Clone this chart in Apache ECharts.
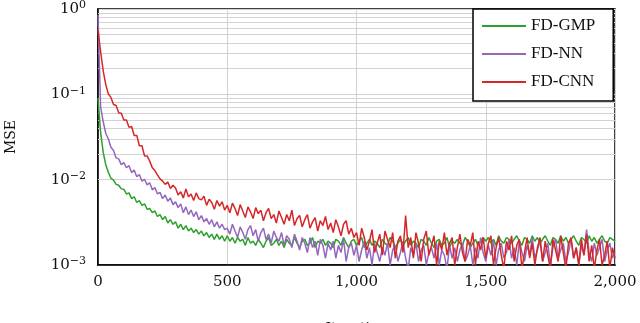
<!DOCTYPE html>
<html>
<head>
<meta charset="utf-8">
<script src="https://cdn.jsdelivr.net/npm/echarts@6/dist/echarts.min.js"></script>
<style>
  html, body { margin: 0; padding: 0; background: #fff; }
  #chart { width: 640px; height: 323px; }
</style>
</head>
<body>
<div id="chart"></div>
<script>
// iterations sampled every 10 steps, 0..2000
const iterStep = 10;

const mseGMP = [
  0.09, 0.036, 0.021, 0.0150, 0.0122, 0.0104, 0.0099, 0.0088, 0.0086, 0.0078,
  0.0077, 0.0068, 0.0070, 0.0060, 0.0063, 0.0054, 0.0057, 0.0050, 0.0052, 0.0045,
  0.0046, 0.0041, 0.0043, 0.0037, 0.0039, 0.0034, 0.0037, 0.0031, 0.0034, 0.0030,
  0.0032, 0.0027, 0.0030, 0.0026, 0.0029, 0.0025, 0.0027, 0.0024, 0.0026, 0.0023,
  0.0025, 0.0022, 0.0024, 0.0021, 0.0023, 0.0020, 0.0023, 0.0020, 0.0022, 0.0019,
  0.0022, 0.0019, 0.0021, 0.0018, 0.0021, 0.0019, 0.0020, 0.0017, 0.0021, 0.0018,
  0.0019, 0.0017, 0.0020, 0.0018, 0.0016, 0.0019, 0.0021, 0.0017, 0.0018, 0.0020,
  0.0017, 0.0019, 0.0016, 0.0020, 0.0018, 0.0017, 0.0021, 0.0018, 0.0016, 0.0019,
  0.0020, 0.0017, 0.0018, 0.0021, 0.0016, 0.0019, 0.0018, 0.0020, 0.0017, 0.0019,
  0.0018, 0.0016, 0.0020, 0.0019, 0.0017, 0.0021, 0.0018, 0.0016, 0.0019, 0.0020,
  0.0017, 0.0019, 0.0021, 0.0016, 0.0018, 0.0020, 0.0017, 0.0019, 0.0018, 0.0016,
  0.0020, 0.0018, 0.0017, 0.0021, 0.0019, 0.0016, 0.0018, 0.0020, 0.0017, 0.0019,
  0.0021, 0.0017, 0.0019, 0.0018, 0.0016, 0.0020, 0.0019, 0.0017, 0.0021, 0.0018,
  0.0016, 0.0019, 0.0020, 0.0017, 0.0018, 0.0021, 0.0016, 0.0019, 0.0018, 0.0020,
  0.0018, 0.0017, 0.0021, 0.0019, 0.0016, 0.0018, 0.0020, 0.0017, 0.0019, 0.0021,
  0.0019, 0.0021, 0.0018, 0.0020, 0.0017, 0.0022, 0.0019, 0.0018, 0.0021, 0.0020,
  0.0018, 0.0020, 0.0022, 0.0019, 0.0017, 0.0021, 0.0020, 0.0018, 0.0022, 0.0019,
  0.0021, 0.0018, 0.0020, 0.0022, 0.0019, 0.0017, 0.0021, 0.0020, 0.0018, 0.0022,
  0.0019, 0.0021, 0.0018, 0.0020, 0.0022, 0.0019, 0.0017, 0.0021, 0.0020, 0.0018,
  0.0022, 0.0019, 0.0021, 0.0018, 0.0020, 0.0022, 0.0019, 0.0018, 0.0021, 0.0020,
  0.0019
];

const mseNN = [
  0.85, 0.072, 0.048, 0.035, 0.030, 0.024, 0.022, 0.018, 0.0175, 0.0150,
  0.0158, 0.0138, 0.0146, 0.0121, 0.0130, 0.0108, 0.0115, 0.0096, 0.0101, 0.0087,
  0.0092, 0.0076, 0.0081, 0.0068, 0.0071, 0.0060, 0.0066, 0.0056, 0.0061, 0.0051,
  0.0055, 0.0047, 0.0052, 0.0041, 0.0048, 0.0039, 0.0044, 0.0037, 0.0042, 0.0034,
  0.0038, 0.0032, 0.0035, 0.0030, 0.0034, 0.0028, 0.0032, 0.0027, 0.0030, 0.0026,
  0.0027, 0.0023, 0.0030, 0.0025, 0.0021, 0.0028, 0.0024, 0.0020, 0.0026, 0.0029,
  0.0022, 0.0026, 0.0019, 0.0024, 0.0027, 0.0020, 0.0023, 0.0018, 0.0025, 0.0021,
  0.0019, 0.0024, 0.0017, 0.0022, 0.0020, 0.0016, 0.0023, 0.0019, 0.0015, 0.0021,
  0.0018, 0.0014, 0.0021, 0.0016, 0.0019, 0.0013, 0.0020, 0.0017, 0.0012, 0.0018,
  0.0015, 0.0019, 0.0012, 0.0017, 0.0014, 0.0020, 0.0011, 0.0016, 0.0018, 0.0013,
  0.0017, 0.0011, 0.0015, 0.0019, 0.0012, 0.0016, 0.0010, 0.0018, 0.0014, 0.0011,
  0.0016, 0.0013, 0.0018, 0.0010, 0.0015, 0.0017, 0.0011, 0.0014, 0.0019, 0.0012,
  0.0009, 0.0016, 0.0013, 0.0018, 0.0011, 0.0015, 0.0017, 0.0010, 0.0014, 0.0016,
  0.0012, 0.0018, 0.0010, 0.0015, 0.0013, 0.0009, 0.0017, 0.0012, 0.0016, 0.0011,
  0.0015, 0.0018, 0.0011, 0.0013, 0.0017, 0.0010, 0.0016, 0.0012, 0.0021, 0.0014,
  0.0011, 0.0017, 0.0013, 0.0019, 0.0010, 0.0015, 0.0018, 0.0012, 0.0014, 0.0020,
  0.0012, 0.0016, 0.0010, 0.0019, 0.0014, 0.0011, 0.0017, 0.0013, 0.0021, 0.0012,
  0.0015, 0.0019, 0.0011, 0.0014, 0.0018, 0.0010, 0.0016, 0.0020, 0.0012, 0.0015,
  0.0018, 0.0011, 0.0014, 0.0020, 0.0012, 0.0016, 0.0010, 0.0017, 0.0013, 0.0026,
  0.0014, 0.0011, 0.0018, 0.0013, 0.0016, 0.0020, 0.0011, 0.0015, 0.0018, 0.0012,
  0.0014
];

const mseCNN = [
  0.57, 0.32, 0.19, 0.13, 0.101, 0.092, 0.076, 0.074, 0.061, 0.060,
  0.050, 0.050, 0.041, 0.042, 0.033, 0.033, 0.025, 0.025, 0.019, 0.019,
  0.0165, 0.0138, 0.0128, 0.0114, 0.0102, 0.0096, 0.0088, 0.0094, 0.0079, 0.0086,
  0.0080, 0.0066, 0.0072, 0.0061, 0.0078, 0.0063, 0.0068, 0.0057, 0.0070, 0.0060,
  0.0058, 0.0064, 0.0050, 0.0059, 0.0054, 0.0045, 0.0057, 0.0049, 0.0055, 0.0044,
  0.0050, 0.0041, 0.0053, 0.0046, 0.0038, 0.0051, 0.0043, 0.0036, 0.0048, 0.0042,
  0.0035, 0.0047, 0.0040, 0.0044, 0.0033, 0.0041, 0.0046, 0.0035, 0.0039, 0.0031,
  0.0043, 0.0036, 0.0030, 0.0039, 0.0033, 0.0044, 0.0029, 0.0035, 0.0038, 0.0028,
  0.0034, 0.0039, 0.0027, 0.0032, 0.0036, 0.0025, 0.0033, 0.0029, 0.0037, 0.0026,
  0.0031, 0.0024, 0.0034, 0.0028, 0.0022, 0.0030, 0.0033, 0.0023, 0.0027, 0.0021,
  0.0024, 0.0017, 0.0027, 0.0021, 0.0015, 0.0019, 0.0026, 0.0014, 0.0018, 0.0023,
  0.0013, 0.0025, 0.0020, 0.0016, 0.0024, 0.0012, 0.0019, 0.0022, 0.0014, 0.0038,
  0.0016, 0.0021, 0.0012, 0.0024, 0.0018, 0.0011, 0.0020, 0.0025, 0.0013, 0.0017,
  0.0022, 0.0010, 0.0019, 0.0015, 0.0024, 0.0013, 0.0018, 0.0021, 0.0010, 0.0016,
  0.0023, 0.0014, 0.0011, 0.0020, 0.0017, 0.0024, 0.0010, 0.0019, 0.0015, 0.0021,
  0.0012, 0.0018, 0.0022, 0.0010, 0.0016, 0.0021, 0.0013, 0.0009, 0.0019, 0.0015,
  0.0022, 0.0011, 0.0017, 0.0020, 0.0009, 0.0014, 0.0021, 0.0012, 0.0018, 0.0010,
  0.0016, 0.0021, 0.0011, 0.0019, 0.0013, 0.0009, 0.0020, 0.0015, 0.0011, 0.0022,
  0.0014, 0.0009, 0.0018, 0.0021, 0.0012, 0.0016, 0.0010, 0.0020, 0.0013, 0.0023,
  0.0011, 0.0017, 0.0009, 0.0015, 0.0020, 0.0010, 0.0013, 0.0019, 0.0009, 0.0016,
  0.0012
];

const seriesNames = ['FD-GMP', 'FD-NN', 'FD-CNN'];
const seriesColors = ['#2ca02c', '#9467bd', '#d62728'];
const xTickLabels = { 0: '0', 500: '500', 1000: '1,000', 1500: '1,500', 2000: '2,000' };
// minor log grid lines (2..9 in each decade)
const minorTicks = [
  0.002, 0.003, 0.004, 0.005, 0.006, 0.007, 0.008, 0.009,
  0.02, 0.03, 0.04, 0.05, 0.06, 0.07, 0.08, 0.09,
  0.2, 0.3, 0.4, 0.5, 0.6, 0.7, 0.8, 0.9
];

const toPairs = arr => arr.map((v, i) => [i * iterStep, v]);

const chart = echarts.init(document.getElementById('chart'));

const gridGray = '#d2d2d2';
const serif = 'DejaVu Serif';

chart.setOption({
  animation: false,
  backgroundColor: '#fff',
  grid: {
    left: 98, right: 25, top: 9, bottom: 58,
    outerBoundsMode: 'none',
    containLabel: false,
    show: true, borderColor: '#000', borderWidth: 1.5
  },
  legend: {
    data: seriesNames,
    orient: 'vertical',
    left: 473, top: 9,
    padding: [8, 18, 10, 9],
    icon: 'rect',
    itemWidth: 44, itemHeight: 2, itemGap: 10,
    backgroundColor: '#fff',
    borderColor: '#000', borderWidth: 1.5, borderRadius: 0,
    lineStyle: { opacity: 0, width: 0 },
    textStyle: { fontFamily: 'Liberation Serif', fontSize: 17, color: '#111', lineHeight: 18 }
  },
  xAxis: {
    type: 'value',
    min: 0, max: 2000, interval: 500,
    name: 'Iteration',
    nameLocation: 'middle', nameGap: 57,
    nameTextStyle: { fontFamily: serif, fontSize: 14, color: '#111' },
    axisLine: { show: true, lineStyle: { color: '#000', width: 1.5 } },
    axisTick: { show: false },
    axisLabel: {
      fontFamily: serif, fontSize: 15, color: '#111', margin: 10,
      formatter: v => xTickLabels[v]
    },
    splitLine: { show: true, lineStyle: { color: gridGray, width: 1 } }
  },
  yAxis: {
    type: 'log', logBase: 10,
    min: 0.001, max: 1,
    name: 'MSE',
    nameLocation: 'middle', nameGap: 80,
    nameTextStyle: { fontFamily: serif, fontSize: 14, color: '#111' },
    axisLine: { show: true, lineStyle: { color: '#000', width: 1.5 } },
    axisTick: { show: false },
    axisLabel: {
      margin: 12,
      formatter: v => {
        const e = Math.round(Math.log10(v));
        return '{b|10}{e|' + (e === 0 ? '0' : '\u2212' + (-e)) + '}';
      },
      rich: {
        b: { fontFamily: serif, fontSize: 15, color: '#111', lineHeight: 18 },
        e: { fontFamily: serif, fontSize: 11, color: '#111', verticalAlign: 'top', lineHeight: 18, padding: [0, 0, 8, 0] }
      }
    },
    splitLine: { show: true, lineStyle: { color: gridGray, width: 1 } }
  },
  series: [
    {
      name: 'minor-grid',
      type: 'line',
      data: [],
      silent: true,
      z: 1,
      markLine: {
        silent: true,
        z: 1,
        symbol: 'none',
        label: { show: false },
        lineStyle: { color: gridGray, width: 1, type: 'solid' },
        data: minorTicks.map(v => ({ yAxis: v }))
      }
    },
    {
      name: seriesNames[0], type: 'line', data: toPairs(mseGMP),
      symbol: 'none', color: seriesColors[0], lineStyle: { width: 1.5 }, z: 2
    },
    {
      name: seriesNames[1], type: 'line', data: toPairs(mseNN),
      symbol: 'none', color: seriesColors[1], lineStyle: { width: 1.5 }, z: 2
    },
    {
      name: seriesNames[2], type: 'line', data: toPairs(mseCNN),
      symbol: 'none', color: seriesColors[2], lineStyle: { width: 1.5 }, z: 2
    }
  ]
});
</script>
</body>
</html>
